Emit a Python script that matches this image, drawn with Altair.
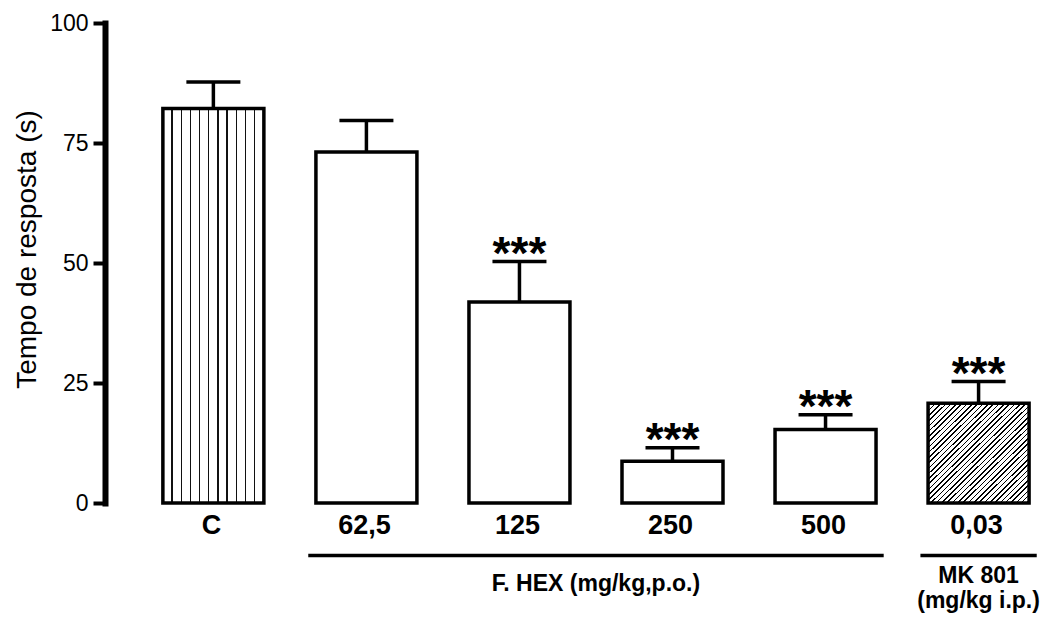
import altair as alt
import pandas as pd

# ---- data ----
categories = ["C", "62,5", "125", "250", "500", "0,03"]
means = [82.2, 73.1, 41.9, 8.7, 15.3, 20.8]
sems = [5.5, 6.6, 8.4, 2.8, 3.1, 4.5]
stars = ["", "", "***", "***", "***", "***"]
patterns = ["vertical", "none", "none", "none", "none", "diagonal"]
group_names = ["F. HEX (mg/kg,p.o.)", "MK 801\n(mg/kg i.p.)"]
group_first = [1, 5]
group_last = [4, 5]
y_ticks = [0, 25, 50, 75, 100]
y_title = "Tempo de resposta (s)"

FONT = "Liberation Sans"
GROUP_PAD = 0.38

df = pd.DataFrame({"i": list(range(len(categories))), "cat": categories,
                   "mean": means, "sem": sems, "star": stars, "pattern": patterns})
df["top"] = df["mean"] + df["sem"]

gdf = pd.DataFrame({"name": group_names, "first": group_first, "last": group_last,
                    "gi": list(range(len(group_names)))})
gdf["x1"] = gdf["first"] - GROUP_PAD
gdf["x2"] = gdf["last"] + GROUP_PAD
gdf["xc"] = (gdf["first"] + gdf["last"]) / 2


def vstripes(n=11, w=0.013):
    stops = [{"offset": 0, "color": "white"}]
    for k in range(1, n):
        c = k / n
        stops += [{"offset": c - w / 2, "color": "white"},
                  {"offset": c - w / 2, "color": "#111111"},
                  {"offset": c + w / 2, "color": "#111111"},
                  {"offset": c + w / 2, "color": "white"}]
    stops.append({"offset": 1, "color": "white"})
    return {"gradient": "linear", "x1": 0, "y1": 0, "x2": 1, "y2": 0, "stops": stops}


def dstripes(n=38, f=0.3):
    stops = [{"offset": 0, "color": "white"}]
    for k in range(n):
        c = (k + 0.5) / n
        h = f / n / 2
        stops += [{"offset": c - h, "color": "white"},
                  {"offset": c - h, "color": "#000000"},
                  {"offset": c + h, "color": "#000000"},
                  {"offset": c + h, "color": "white"}]
    stops.append({"offset": 1, "color": "white"})
    return {"gradient": "linear", "x1": 0, "y1": 0, "x2": 1, "y2": 1, "stops": stops}


xscale = alt.Scale(domain=[-0.6755, 5.336], nice=False, zero=False)
yscale = alt.Scale(domain=[0, 100], nice=False, zero=True)

base = alt.Chart(df)

x_enc = alt.X("i:Q", scale=xscale, axis=None)
y_bar = alt.Y("mean:Q", scale=yscale, title=y_title,
              axis=alt.Axis(values=y_ticks, grid=False, domainColor="black", domainWidth=6,
                            domainCap="square", tickColor="black", tickWidth=4, tickSize=12,
                            labelFont=FONT, labelFontSize=23, labelColor="black", labelPadding=5,
                            titleFont=FONT, titleFontSize=28, titleFontWeight="normal",
                            titleColor="black", titlePadding=8, titleY=226))

bar_kw = dict(stroke="black", strokeWidth=3.5, size=101)
bars_plain = base.transform_filter(alt.datum.pattern == "none").mark_bar(fill="white", **bar_kw).encode(x=x_enc, y=y_bar)
bars_vert = base.transform_filter(alt.datum.pattern == "vertical").mark_bar(fill=vstripes(), **bar_kw).encode(x=x_enc, y=y_bar)
bars_diag = base.transform_filter(alt.datum.pattern == "diagonal").mark_bar(fill=dstripes(), **bar_kw).encode(x=x_enc, y=y_bar)

stems = base.mark_rule(color="black", strokeWidth=3.5).encode(
    x=x_enc, y=alt.Y("mean:Q", scale=yscale, title=y_title), y2="top:Q")
caps = base.mark_tick(orient="horizontal", color="black", size=54, thickness=3.5, opacity=1).encode(
    x=x_enc, y=alt.Y("top:Q", scale=yscale, title=y_title))
star_text = base.transform_filter(alt.datum.star != "").mark_text(
    font=FONT, fontSize=46, fontWeight="bold", baseline="alphabetic", dy=7, color="black").encode(
    x=x_enc, y=alt.Y("top:Q", scale=yscale, title=y_title), text="star:N")

cat_labels = base.mark_text(font=FONT, fontSize=27, fontWeight="bold", baseline="alphabetic",
                            dx=-2, color="black").encode(
    x=x_enc, y=alt.value(511), text="cat:N")

gbase = alt.Chart(gdf)
glines = gbase.mark_rule(color="black", strokeWidth=3.5).encode(
    x=alt.X("x1:Q", scale=xscale, axis=None), x2="x2:Q", y=alt.value(532.5))
gtext0 = gbase.transform_filter(alt.datum.gi == 0).mark_text(
    font=FONT, fontSize=23, fontWeight="bold", baseline="alphabetic", color="black").encode(
    x=alt.X("xc:Q", scale=xscale, axis=None), y=alt.value(568), text="name:N")
gtext1 = gbase.transform_filter(alt.datum.gi == 1).mark_text(
    font=FONT, fontSize=23, fontWeight="bold", baseline="alphabetic", color="black",
    lineBreak="\n", lineHeight=25).encode(
    x=alt.X("xc:Q", scale=xscale, axis=None), y=alt.value(560), text="name:N")

chart = alt.layer(bars_vert, bars_plain, bars_diag, stems, caps, star_text, cat_labels,
                  glines, gtext0, gtext1).properties(
    width=930, height=480,
    autosize=alt.AutoSizeParams(type="none"),
    padding={"left": 97, "top": 15, "right": 15, "bottom": 112},
    background="white",
).configure_view(stroke=None)

chart.save("out.html", embed_options={"renderer": "svg", "actions": False})
